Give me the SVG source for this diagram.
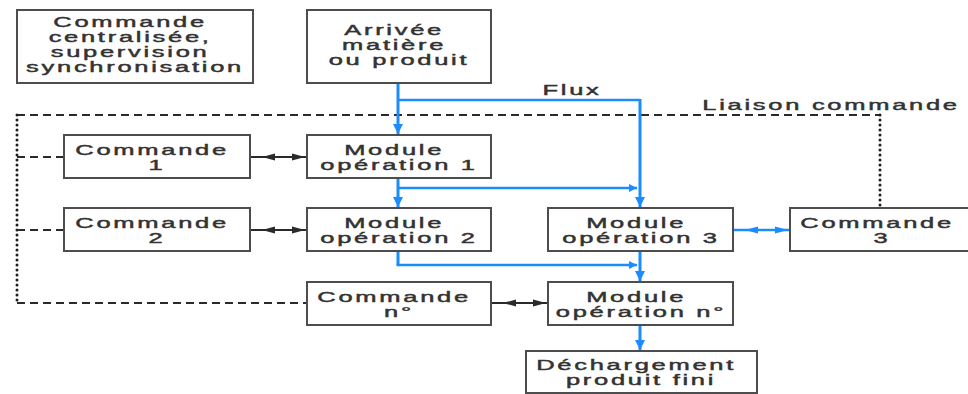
<svg xmlns="http://www.w3.org/2000/svg" xmlns:xlink="http://www.w3.org/1999/xlink" width="968" height="394" viewBox="0 0 968 394">
  <style>
    .box { fill: #ffffff; stroke: #4d4d4d; stroke-width: 2; }
    .lbl { font-family: "Liberation Sans", Arial, sans-serif; font-size: 15px; fill: #333333; stroke: #333333; stroke-width: 0.45; text-anchor: middle; letter-spacing: 1.6px; }
    .flow { fill: none; stroke: #1a8cff; stroke-width: 3; }
    .flow-h { fill: none; stroke: #1a8cff; stroke-width: 2.5; }
    .dash { fill: none; stroke: #2a2a2a; stroke-width: 2; stroke-dasharray: 8 5; }
    .dot { fill: none; stroke: #1e1e1e; stroke-width: 3; stroke-dasharray: 0 5; stroke-linecap: round; }
    .link { fill: none; stroke: #2a2a2a; stroke-width: 2; }
    .link-b { fill: none; stroke: #1a8cff; stroke-width: 2.5; }
  </style>
  <defs>
    <marker id="arrowBlue" viewBox="0 0 10 10" refX="10" refY="5" markerWidth="3.4" markerHeight="3.4" orient="auto" markerUnits="strokeWidth">
      <path d="M0,0 L10,5 L0,10 Z" fill="#1a8cff"/>
    </marker>
    <path id="headBlack" d="M0,0 L-13,-3.5 L-13,3.5 Z" fill="#2a2a2a"/>
    <path id="headBlue" d="M0,0 L-13,-3.5 L-13,3.5 Z" fill="#1a8cff"/>
  </defs>

  <!-- control links (dashed / dotted) and material flow -->
  <g id="connectors">
    <path class="dash" d="M17 115 H880"/>
    <path class="dot" d="M880 115 V207"/>
    <path class="dot" d="M17 115 V303"/>
    <path class="dash" d="M17 303 H307"/>
    <path class="dash" d="M17 157 H64"/>
    <path class="dash" d="M17 230 H64"/>

    <!-- two-way command links -->
    <path class="link" d="M250 157 H307"/>
    <use xlink:href="#headBlack" transform="translate(262,157) rotate(180)"/>
    <use xlink:href="#headBlack" transform="translate(305,157)"/>
    <path class="link" d="M250 230 H307"/>
    <use xlink:href="#headBlack" transform="translate(262,230) rotate(180)"/>
    <use xlink:href="#headBlack" transform="translate(305,230)"/>
    <path class="link" d="M491 303 H548"/>
    <use xlink:href="#headBlack" transform="translate(503,303) rotate(180)"/>
    <use xlink:href="#headBlack" transform="translate(546,303)"/>
    <path class="link-b" d="M733 230 H790"/>
    <use xlink:href="#headBlue" transform="translate(745,230) rotate(180)"/>
    <use xlink:href="#headBlue" transform="translate(788,230)"/>

    <!-- product flow -->
    <path class="flow" d="M398 83 V134" marker-end="url(#arrowBlue)"/>
    <path class="flow-h" d="M398 100 H640"/>
    <path class="flow" d="M640 99 V207" marker-end="url(#arrowBlue)"/>
    <path class="flow" d="M398 178 V207" marker-end="url(#arrowBlue)"/>
    <path class="flow-h" d="M398 188 H637" marker-end="url(#arrowBlue)"/>
    <path class="flow" d="M398 251 V265"/>
    <path class="flow-h" d="M396.5 265 H637" marker-end="url(#arrowBlue)"/>
    <path class="flow" d="M640 251 V281" marker-end="url(#arrowBlue)"/>
    <path class="flow" d="M640 325 V350" marker-end="url(#arrowBlue)"/>

    <text class="lbl" transform="translate(572,95) scale(1.7,1)">Flux</text>
    <text class="lbl" transform="translate(831,110) scale(1.7,1)">Liaison commande</text>
  </g>

  <g id="central">
    <rect class="box" x="17" y="10" width="236" height="73"/>
    <text class="lbl" transform="translate(135,27) scale(1.7,1)">
      <tspan x="0" y="0">Commande</tspan>
      <tspan x="0" y="15">centralisée,</tspan>
      <tspan x="0" y="30">supervision</tspan>
      <tspan x="0" y="45">synchronisation</tspan>
    </text>
  </g>

  <g id="arrivee">
    <rect class="box" x="307" y="10" width="184" height="73"/>
    <text class="lbl" transform="translate(399,35) scale(1.7,1)">
      <tspan x="0" y="0">Arrivée</tspan>
      <tspan x="0" y="15">matière</tspan>
      <tspan x="0" y="30">ou produit</tspan>
    </text>
  </g>

  <g id="commande1">
    <rect class="box" x="64" y="135" width="186" height="43"/>
    <text class="lbl" transform="translate(157,155) scale(1.7,1)">
      <tspan x="0" y="0">Commande</tspan>
      <tspan x="0" y="15">1</tspan>
    </text>
  </g>

  <g id="module1">
    <rect class="box" x="307" y="135" width="184" height="43"/>
    <text class="lbl" transform="translate(399,155) scale(1.7,1)">
      <tspan x="0" y="0">Module</tspan>
      <tspan x="0" y="15">opération 1</tspan>
    </text>
  </g>

  <g id="commande2">
    <rect class="box" x="64" y="208" width="186" height="43"/>
    <text class="lbl" transform="translate(157,228) scale(1.7,1)">
      <tspan x="0" y="0">Commande</tspan>
      <tspan x="0" y="15">2</tspan>
    </text>
  </g>

  <g id="module2">
    <rect class="box" x="307" y="208" width="184" height="43"/>
    <text class="lbl" transform="translate(399,228) scale(1.7,1)">
      <tspan x="0" y="0">Module</tspan>
      <tspan x="0" y="15">opération 2</tspan>
    </text>
  </g>

  <g id="module3">
    <rect class="box" x="548" y="208" width="185" height="43"/>
    <text class="lbl" transform="translate(641,228) scale(1.7,1)">
      <tspan x="0" y="0">Module</tspan>
      <tspan x="0" y="15">opération 3</tspan>
    </text>
  </g>

  <g id="commande3">
    <rect class="box" x="790" y="208" width="186" height="43"/>
    <text class="lbl" transform="translate(882,228) scale(1.7,1)">
      <tspan x="0" y="0">Commande</tspan>
      <tspan x="0" y="15">3</tspan>
    </text>
  </g>

  <g id="commandeN">
    <rect class="box" x="307" y="282" width="184" height="43"/>
    <text class="lbl" transform="translate(399,302) scale(1.7,1)">
      <tspan x="0" y="0">Commande</tspan>
      <tspan x="0" y="15">n°</tspan>
    </text>
  </g>

  <g id="moduleN">
    <rect class="box" x="548" y="282" width="185" height="43"/>
    <text class="lbl" transform="translate(641,302) scale(1.7,1)">
      <tspan x="0" y="0">Module</tspan>
      <tspan x="0" y="15">opération n°</tspan>
    </text>
  </g>

  <g id="dechargement">
    <rect class="box" x="526" y="351" width="231" height="42"/>
    <text class="lbl" transform="translate(641,370) scale(1.7,1)">
      <tspan x="0" y="0">Déchargement</tspan>
      <tspan x="0" y="15">produit fini</tspan>
    </text>
  </g>
</svg>
